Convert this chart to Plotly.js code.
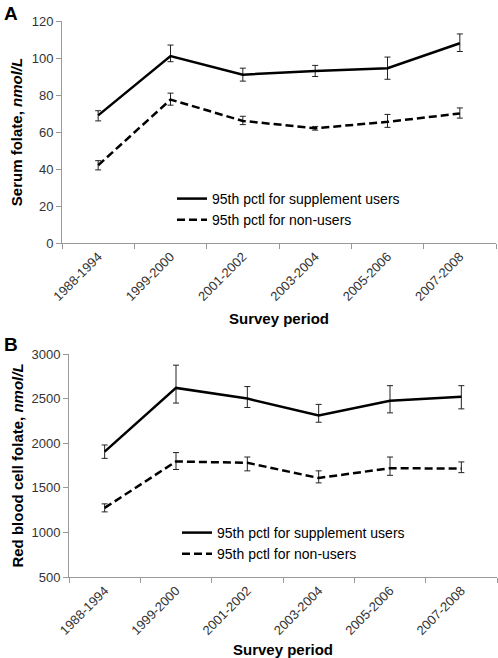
<!DOCTYPE html>
<html>
<head>
<meta charset="utf-8">
<script src="https://cdn.plot.ly/plotly-3.0.1.min.js"></script>
<style>html,body{margin:0;padding:0;background:#fff;}#chart{width:498px;height:658px;}</style>
</head>
<body>
<div id="chart"></div>
<script>
var categories = ['1988-1994','1999-2000','2001-2002','2003-2004','2005-2006','2007-2008'];
var serumUsers = [69, 101, 91, 93, 94.5, 108];
var serumUsersPlus = [2.5, 6, 3.5, 3, 6, 5];
var serumUsersMinus = [3, 3, 3.5, 3, 6, 4.5];
var serumNon = [42, 77.5, 66, 62, 65.5, 70];
var serumNonPlus = [2.5, 3.5, 2.5, 1, 4, 3];
var serumNonMinus = [2.5, 3, 2, 1, 3, 2.5];
var rbcUsers = [1905, 2620, 2500, 2310, 2475, 2520];
var rbcUsersPlus = [75, 255, 135, 125, 170, 125];
var rbcUsersMinus = [75, 170, 100, 75, 135, 135];
var rbcNon = [1275, 1795, 1780, 1610, 1720, 1715];
var rbcNonPlus = [45, 100, 65, 80, 125, 75];
var rbcNonMinus = [45, 90, 90, 55, 80, 45];
var seriesNames = ['95th pctl for supplement users', '95th pctl for non-users'];

function err(p, m) {
  return {type: 'data', symmetric: false, array: p, arrayminus: m, color: '#222', thickness: 1, width: 3};
}
var solid = {color: '#000', width: 2.5};
var dashed = {color: '#000', width: 2.5, dash: '8px,4px'};

var traces = [
  {x: categories, y: serumUsers, error_y: err(serumUsersPlus, serumUsersMinus), mode: 'lines', line: solid, name: seriesNames[0], xaxis: 'x', yaxis: 'y', legend: 'legend'},
  {x: categories, y: serumNon, error_y: err(serumNonPlus, serumNonMinus), mode: 'lines', line: dashed, name: seriesNames[1], xaxis: 'x', yaxis: 'y', legend: 'legend'},
  {x: categories, y: rbcUsers, error_y: err(rbcUsersPlus, rbcUsersMinus), mode: 'lines', line: solid, name: seriesNames[0], xaxis: 'x2', yaxis: 'y2', legend: 'legend2'},
  {x: categories, y: rbcNon, error_y: err(rbcNonPlus, rbcNonMinus), mode: 'lines', line: dashed, name: seriesNames[1], xaxis: 'x2', yaxis: 'y2', legend: 'legend2'}
];

var FF = 'Liberation Sans, Arial, sans-serif';
var tickFont = {family: FF, size: 13, color: '#333'};
var titleFont = {family: FF, size: 15, color: '#000'};
var H = 658, W = 498;
function xax(l, r, standoff) {
  return {
    domain: [l / W, r / W], range: [-0.5, 5.5], type: 'category',
    showline: true, linecolor: '#999', linewidth: 1, showgrid: false, zeroline: false,
    ticks: 'outside', tickson: 'boundaries', ticklen: 5, tickcolor: '#999',
    tickangle: -45, tickfont: tickFont, fixedrange: true,
    title: {text: '<b>Survey period</b>', font: titleFont, standoff: standoff}
  };
}
function yax(top, bot, range, dtick, title, anchor, standoff) {
  return {
    domain: [(H - bot) / H, (H - top) / H], range: range, dtick: dtick, anchor: anchor,
    showline: true, linecolor: '#999', linewidth: 1, showgrid: false, zeroline: false,
    ticks: 'outside', ticklen: 5, tickcolor: '#999', tickfont: tickFont,
    title: {text: title, font: titleFont, standoff: standoff}
  };
}
var legFont = {family: FF, size: 14, color: '#000'};
var layout = {
  width: W, height: H,
  margin: {l: 0, r: 0, t: 0, b: 0},
  paper_bgcolor: '#fff', plot_bgcolor: '#fff',
  showlegend: true,
  xaxis: xax(62, 496, 10),
  yaxis: yax(21, 243, [0, 120], 20, '<b>Serum folate, <i>nmol/L</i></b>', 'x', 5),
  xaxis2: Object.assign(xax(69, 497, 7), {anchor: 'y2'}),
  yaxis2: yax(354, 577, [500, 3000], 500, '<b>Red blood cell folate, <i>nmol/L</i></b>', 'x2', 4),
  legend: {x: 172 / W, y: (H - 183) / H, xanchor: 'left', yanchor: 'top', bgcolor: 'rgba(0,0,0,0)', font: legFont, tracegroupgap: 0, itemclick: false},
  legend2: {x: 177 / W, y: (H - 517) / H, xanchor: 'left', yanchor: 'top', bgcolor: 'rgba(0,0,0,0)', font: legFont, tracegroupgap: 0, itemclick: false},
  annotations: [
    {text: '<b>A</b>', xref: 'paper', yref: 'paper', x: 2 / W, y: (H - 1) / H, xanchor: 'left', yanchor: 'top', showarrow: false, font: {family: FF, size: 19, color: '#000'}},
    {text: '<b>B</b>', xref: 'paper', yref: 'paper', x: 2 / W, y: (H - 332) / H, xanchor: 'left', yanchor: 'top', showarrow: false, font: {family: FF, size: 19, color: '#000'}}
  ]
};
Plotly.newPlot('chart', traces, layout, {staticPlot: true, displayModeBar: false});
</script>
</body>
</html>
